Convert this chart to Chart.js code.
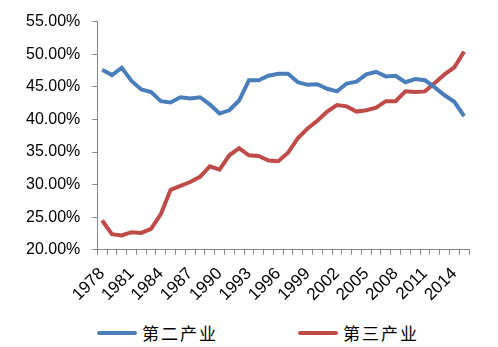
<!DOCTYPE html>
<html>
<head>
<meta charset="utf-8">
<script src="https://cdn.jsdelivr.net/npm/chart.js@4.4.1/dist/chart.umd.min.js"></script>
<style>
  html, body { margin: 0; padding: 0; background: #fff; }
  #wrap { width: 498px; height: 314px; position: relative; }
  #legend { display: flex; padding-left: 97px; height: 37px; align-items: center; margin-top: 0px; }
  .item { display: flex; align-items: center; font-family: "Noto Sans CJK SC"; font-size: 17px; color: #000; letter-spacing: 2px; }
  .item + .item { margin-left: 80px; }
  .swatch { width: 40px; height: 4px; border-radius: 2px; margin-right: 5px; }
</style>
</head>
<body>
<div id="wrap"><canvas id="chart"></canvas></div>
<div id="legend"></div>
<script>
const years = [];
for (let y = 1978; y <= 2015; y++) years.push(String(y));

const secondary = [47.6, 46.8, 47.9, 45.9, 44.6, 44.2, 42.8, 42.6, 43.4, 43.2,
    43.4, 42.3, 40.9, 41.4, 42.9, 46.0, 46.0, 46.7, 47.0, 47.0,
    45.7, 45.3, 45.4, 44.7, 44.3, 45.5, 45.8, 46.9, 47.3, 46.6,
    46.7, 45.7, 46.2, 46.0, 44.9, 43.7, 42.7, 40.5];

const tertiary = [24.5, 22.4, 22.2, 22.7, 22.6, 23.2, 25.5, 29.2, 29.8, 30.4,
    31.2, 32.8, 32.3, 34.5, 35.6, 34.5, 34.4, 33.7, 33.6, 34.9,
    37.1, 38.6, 39.8, 41.2, 42.2, 42.0, 41.2, 41.4, 41.8, 42.8,
    42.8, 44.3, 44.2, 44.3, 45.6, 46.9, 48.0, 50.4];

const seriesNames = ['第二产业', '第三产业'];
const yMin = 20, yMax = 55, yStep = 5;

const BLUE = '#4a7ebb';
const RED = '#be4b48';
const AXIS = '#868686';

const ctx = document.getElementById('chart').getContext('2d');
const chart = new Chart(ctx, {
    type: 'line',
    data: {
        labels: years,
        datasets: [{
            label: seriesNames[0],
            data: secondary,
            borderColor: BLUE,
            backgroundColor: BLUE,
            borderWidth: 4,
            pointRadius: 0,
            tension: 0
        }, {
            label: seriesNames[1],
            data: tertiary,
            borderColor: RED,
            backgroundColor: RED,
            borderWidth: 4,
            pointRadius: 0,
            tension: 0
        }]
    },
    options: {
        responsive: true,
        maintainAspectRatio: false,
        animation: false,
        layout: { padding: { left: 14, right: 29, top: 12, bottom: 0 } },
        plugins: {
            tooltip: { enabled: false },
            legend: { display: false }
        },
        scales: {
            x: {
                offset: true,
                grid: {
                    offset: true,
                    drawOnChartArea: false,
                    drawTicks: true,
                    tickLength: 5,
                    color: AXIS
                },
                border: { color: AXIS, width: 1 },
                ticks: {
                    autoSkip: false,
                    maxRotation: 45,
                    minRotation: 45,
                    padding: 9,
                    color: '#000',
                    font: { family: '"Liberation Sans", Arial', size: 17 },
                    callback: function(val, idx) {
                        return idx % 3 === 0 ? this.getLabelForValue(val) : '';
                    }
                }
            },
            y: {
                min: yMin,
                max: yMax,
                grid: {
                    drawOnChartArea: false,
                    drawTicks: true,
                    tickLength: 5,
                    color: AXIS
                },
                border: { color: AXIS, width: 1 },
                ticks: {
                    stepSize: yStep,
                    autoSkip: false,
                    padding: 12,
                    color: '#000',
                    font: { family: '"Liberation Sans", Arial', size: 16 },
                    callback: v => v.toFixed(2) + '%'
                }
            }
        }
    }
});

// simple html legend
const legendDiv = document.getElementById('legend');
chart.data.datasets.forEach(ds => {
    const item = document.createElement('div');
    item.className = 'item';
    const sw = document.createElement('span');
    sw.className = 'swatch';
    sw.style.background = ds.borderColor;
    item.appendChild(sw);
    item.appendChild(document.createTextNode(ds.label));
    legendDiv.appendChild(item);
});
</script>
</body>
</html>
